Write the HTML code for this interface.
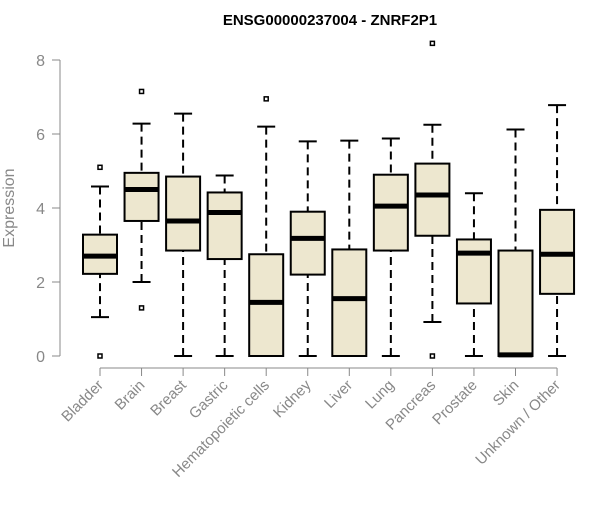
<!DOCTYPE html>
<html><head><meta charset="utf-8"><style>body{margin:0;background:#fff}svg{font-family:"Liberation Sans",Arial,sans-serif}</style></head>
<body>
<svg id="c" width="600" height="500" xmlns="http://www.w3.org/2000/svg"></svg>
<script>
const categories=["Bladder","Brain","Breast","Gastric","Hematopoietic cells","Kidney","Liver","Lung","Pancreas","Prostate","Skin","Unknown / Other"];
const whiskerLow=[1.05,2.0,0,0,0,0,0,0,0.92,0,0,0];
const q1=[2.22,3.65,2.85,2.62,0,2.2,0,2.85,3.25,1.42,0,1.68];
const medians=[2.7,4.5,3.65,3.88,1.45,3.18,1.55,4.05,4.35,2.78,0.03,2.75];
const q3=[3.28,4.95,4.85,4.42,2.75,3.9,2.88,4.9,5.2,3.15,2.85,3.95];
const whiskerHigh=[4.58,6.28,6.55,4.88,6.2,5.8,5.82,5.88,6.25,4.4,6.12,6.78];
const outliers=[[5.1,0],[7.15,1.3],[],[],[6.95],[],[],[],[8.45,0],[],[],[]];
const yTicks=[0,2,4,6,8];
const NS="http://www.w3.org/2000/svg",svg=document.getElementById('c');
const y=v=>356-v*37, x=i=>100+i*41.55;
function el(t,a,p){const e=document.createElementNS(NS,t);for(const k in a)e.setAttribute(k,a[k]);(p||svg).appendChild(e);return e;}
let t=el('text',{x:330,y:25,'text-anchor':'middle','font-size':15,'font-weight':'bold',fill:'#000'});t.textContent="ENSG00000237004 - ZNRF2P1";

let ya=el('g',{});
el('line',{x1:60,x2:60,y1:y(0),y2:y(8),stroke:'#888'},ya);
yTicks.forEach(v=>{el('line',{x1:52,x2:60,y1:y(v),y2:y(v),stroke:'#888'},ya);
 const l=el('text',{x:45,y:y(v)+6,'text-anchor':'end','font-size':16,fill:'#888'},ya);l.textContent=v;
 });
let yt=el('text',{x:14,y:208,'text-anchor':'middle','font-size':16,fill:'#888',transform:'rotate(-90 14 208)'});yt.textContent="Expression";

let xa=el('g',{});
el('line',{x1:x(0),x2:x(11),y1:368,y2:368,stroke:'#888'},xa);
categories.forEach((c,i)=>{const cx=x(i);
 el('line',{x1:cx,x2:cx,y1:368,y2:376,stroke:'#888'},xa);
 const l=el('text',{x:cx+4,y:386,'text-anchor':'end','font-size':15,fill:'#888',transform:`rotate(-45 ${cx+4} 386)`},xa);l.textContent=c;
 
 const g=el('g',{});
 el('line',{x1:cx,x2:cx,y1:y(whiskerLow[i]),y2:y(q1[i]),stroke:'#000','stroke-width':2,'stroke-dasharray':'8,5'},g);
 el('line',{x1:cx,x2:cx,y1:y(whiskerHigh[i]),y2:y(q3[i]),stroke:'#000','stroke-width':2,'stroke-dasharray':'8,5'},g);
 el('line',{x1:cx-9,x2:cx+9,y1:y(whiskerLow[i]),y2:y(whiskerLow[i]),stroke:'#000','stroke-width':2},g);
 el('line',{x1:cx-9,x2:cx+9,y1:y(whiskerHigh[i]),y2:y(whiskerHigh[i]),stroke:'#000','stroke-width':2},g);
 el('rect',{x:cx-17,y:y(q3[i]),width:34,height:y(q1[i])-y(q3[i]),fill:'#ede7cf',stroke:'#000','stroke-width':2},g);
 el('line',{x1:cx-17,x2:cx+17,y1:y(medians[i]),y2:y(medians[i]),stroke:'#000','stroke-width':5},g);
 outliers[i].forEach(o=>{const p=el('rect',{x:cx-2,y:y(o)-2,width:4,height:4,fill:'none',stroke:'#000','stroke-width':1.5},g);
  });
});
</script>
</body></html>
